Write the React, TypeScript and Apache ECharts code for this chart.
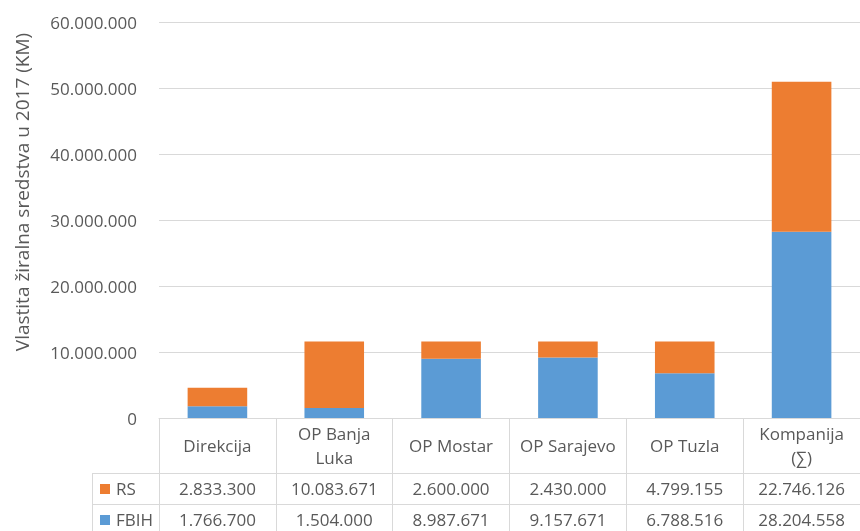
import { useEffect, useRef } from 'react';
import * as echarts from 'echarts';

const categories = ['Direkcija', 'OP Banja\nLuka', 'OP Mostar', 'OP Sarajevo', 'OP Tuzla', 'Kompanija\n(∑)'];
const rsValues = [2833300, 10083671, 2600000, 2430000, 4799155, 22746126];
const fbihValues = [1766700, 1504000, 8987671, 9157671, 6788516, 28204558];
const seriesNames = ['RS', 'FBIH'];
const yMin = 0;
const yMax = 60000000;
const yInterval = 10000000;
const yAxisTitle = 'Vlastita žiralna sredstva u 2017 (KM)';

const FONT = "'Segoe UI', 'Open Sans', sans-serif";
const TEXT = '#595959';
const GRID = '#D9D9D9';
const ORANGE = '#ED7D31';
const BLUE = '#5B9BD5';
const FS = 17;

const fmt = (v: number) => String(Math.round(v)).replace(/\B(?=(\d{3})+(?!\d))/g, '.');

export default function App() {
  const ref = useRef<HTMLDivElement>(null);
  useEffect(() => {
    if (!ref.current) return;
    const chart = echarts.init(ref.current, null, { renderer: 'svg' });
    chart.setOption({
      animation: false,
      grid: { left: 159, top: 22, width: 708, height: 396 },
      xAxis: {
        type: 'category',
        data: categories,
        axisLine: { lineStyle: { color: GRID } },
        axisTick: { show: true, alignWithLabel: false, interval: 0, length: 117, lineStyle: { color: GRID } },
        axisLabel: {
          interval: 0,
          color: TEXT,
          fontFamily: FONT,
          fontSize: FS,
          lineHeight: 24,
          verticalAlign: 'middle',
          margin: 27,
        },
      },
      yAxis: {
        type: 'value',
        min: yMin,
        max: yMax,
        interval: yInterval,
        axisLine: { show: false },
        axisTick: { show: false },
        axisLabel: { color: TEXT, fontFamily: FONT, fontSize: FS, margin: 22, formatter: (v: number) => fmt(v) },
        splitLine: { lineStyle: { color: GRID } },
      },
      series: [
        { name: seriesNames[1], type: 'bar', stack: 't', data: fbihValues, barWidth: '51%', itemStyle: { color: BLUE } },
        { name: seriesNames[0], type: 'bar', stack: 't', data: rsValues, barWidth: '51%', itemStyle: { color: ORANGE } },
      ],
    });

    const cx = categories.map((c) => chart.convertToPixel({ xAxisIndex: 0 }, c) as number);
    const band = cx[1] - cx[0];
    const right = cx[cx.length - 1] + band / 2;
    const y0 = chart.convertToPixel({ yAxisIndex: 0 }, 0) as number;
    const headerH = 55;
    const rowH = 31;
    const labelLeft = 92;
    const s = (v: number) => Math.round(v) + 0.5;
    const rows = [
      { name: seriesNames[0], values: rsValues, color: ORANGE },
      { name: seriesNames[1], values: fbihValues, color: BLUE },
    ];
    const elements: any[] = [];
    elements.push({
      type: 'text', x: 22, y: 192, rotation: Math.PI / 2,
      style: { text: yAxisTitle, fill: TEXT, font: `19px ${FONT}`, textAlign: 'center', textVerticalAlign: 'middle' },
    });
    for (let r = 0; r <= rows.length; r++) {
      const y = s(y0 + headerH + r * rowH);
      elements.push({ type: 'line', shape: { x1: labelLeft, y1: y, x2: right, y2: y }, style: { stroke: GRID, lineWidth: 1 } });
    }
    elements.push({
      type: 'line',
      shape: { x1: s(labelLeft), y1: y0 + headerH, x2: s(labelLeft), y2: y0 + headerH + rows.length * rowH },
      style: { stroke: GRID, lineWidth: 1 },
    });
    rows.forEach((row, r) => {
      const cy = y0 + headerH + r * rowH + rowH / 2;
      elements.push({ type: 'rect', shape: { x: labelLeft + 8, y: Math.round(cy - 5), width: 10, height: 10 }, style: { fill: row.color } });
      elements.push({
        type: 'text', x: labelLeft + 24, y: cy,
        style: { text: row.name, fill: TEXT, font: `${FS}px ${FONT}`, textAlign: 'left', textVerticalAlign: 'middle' },
      });
      row.values.forEach((v, i) => {
        elements.push({
          type: 'text', x: cx[i], y: cy,
          style: { text: fmt(v), fill: TEXT, font: `${FS}px ${FONT}`, textAlign: 'center', textVerticalAlign: 'middle' },
        });
      });
    });
    chart.setOption({ graphic: { elements } });
    return () => chart.dispose();
  }, []);
  return <div ref={ref} style={{ position: 'fixed', left: 0, top: 0, width: 860, height: 531 }} />;
}
